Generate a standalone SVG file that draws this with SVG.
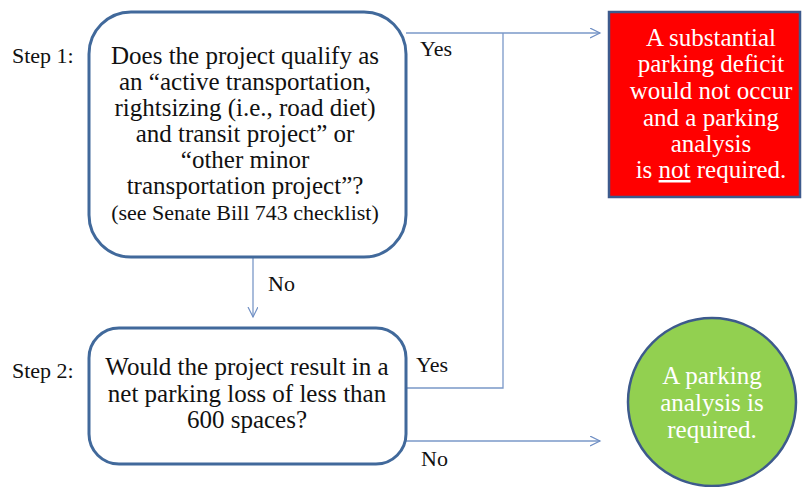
<svg xmlns="http://www.w3.org/2000/svg" width="802" height="487" viewBox="0 0 802 487">
<defs>
<marker id="arr" markerWidth="12" markerHeight="12" refX="10" refY="5" orient="auto" markerUnits="userSpaceOnUse">
<path d="M0,0 L10,5 L0,10" fill="none" stroke="#6f8fc4" stroke-width="1.2"/>
</marker>
<style>
text{font-family:"Liberation Serif","Times New Roman",serif;font-size:22px;fill:#111;}
.n{font-size:25px;}
.c{text-anchor:middle;}
.w{fill:#fff;}
.sm{font-size:22px;}
.box{fill:#fff;stroke:#41699b;stroke-width:3;}
.con{fill:none;stroke:#7a98c8;stroke-width:1.3;}
</style>
</defs>
<rect width="802" height="487" fill="#fff"/>
<g id="connectors">
<path class="con" d="M406,33 H600" marker-end="url(#arr)"/>
<path class="con" d="M503,33 V388 H406"/>
<path class="con" d="M406,441 H600" marker-end="url(#arr)"/>
<path class="con" d="M253,258 V317" marker-end="url(#arr)"/>
</g>
<g id="labels">
<text x="12" y="63">Step 1:</text>
<text x="12" y="378">Step 2:</text>
<text x="420" y="56">Yes</text>
<text x="416" y="372">Yes</text>
<text x="268" y="291">No</text>
<text x="421" y="466">No</text>
</g>
<g id="step1">
<rect class="box" x="89" y="12" width="317" height="245" rx="42"/>
<text class="c n" x="245" y="64">Does the project qualify as</text>
<text class="c n" x="245" y="90">an “active transportation,</text>
<text class="c n" x="245" y="116">rightsizing  (i.e., road diet)</text>
<text class="c n" x="245" y="142">and transit project” or</text>
<text class="c n" x="245" y="168">“other minor</text>
<text class="c n" x="245" y="194">transportation project”?</text>
<text class="c sm" x="245" y="220">(see Senate Bill 743 checklist)</text>
</g>
<g id="step2">
<rect class="box" x="89" y="328" width="317" height="136" rx="30"/>
<text class="c n" x="247" y="375">Would the project result in a</text>
<text class="c n" x="247" y="402">net parking loss of less than</text>
<text class="c n" x="247" y="428">600 spaces?</text>
</g>
<g id="no-analysis">
<rect x="609" y="12" width="191" height="185" fill="#ff0000" stroke="#3d5a8c" stroke-width="2.5"/>
<text class="c w n" x="711" y="46">A substantial</text>
<text class="c w n" x="711" y="72">parking deficit</text>
<text class="c w n" x="711" y="99">would not occur</text>
<text class="c w n" x="711" y="126">and a parking</text>
<text class="c w n" x="711" y="152">analysis</text>
<text class="c w n" x="711" y="178">is <tspan text-decoration="underline">not</tspan> required.</text>
</g>
<g id="analysis">
<circle cx="712" cy="402" r="84" fill="#92d050" stroke="#3d5a8c" stroke-width="2.5"/>
<text class="c w n" x="712" y="384">A parking</text>
<text class="c w n" x="712" y="411">analysis is</text>
<text class="c w n" x="712" y="438">required.</text>
</g>
</svg>
